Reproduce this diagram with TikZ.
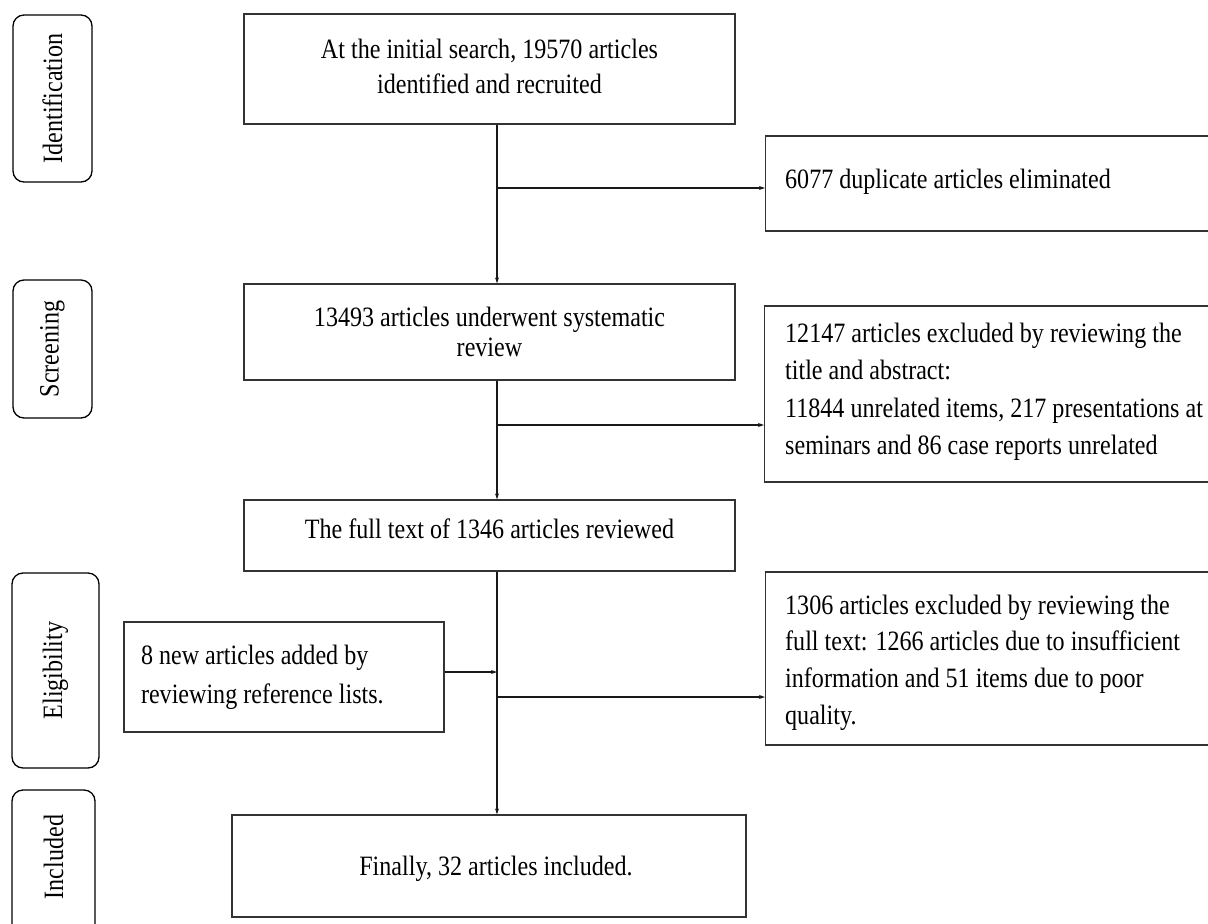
\documentclass[tikz,border=0pt]{standalone}
\usepackage{fontspec}
\setmainfont{Liberation Serif}[FakeStretch=0.86]
\usetikzlibrary{arrows.meta,calc}
\begin{document}
\begin{tikzpicture}[x=1pt,y=-1pt,
  every node/.style={font=\fontsize{28}{38}\selectfont},
  box/.style={draw=black!80,line width=1.3pt,inner sep=0pt,align=center},
  rbox/.style={draw=black!80,line width=1.3pt,inner sep=0pt,minimum width=470pt,anchor=west},
  rtext/.style={inner sep=0pt,anchor=west,align=flush left},
  tab/.style={draw=black,line width=1.3pt,rounded corners=11pt,inner sep=0pt},
  flow/.style={line width=2.4pt,draw=black!90,-{Stealth[length=6pt,width=4pt]}}]
\useasboundingbox (0,0) rectangle (1208,924);

% stage tabs
\node[tab,minimum width=79pt,minimum height=167pt] (tid) at (52.5,98.5) {};
\node[rotate=90] (tidt) at (tid.center) {Identification};
\node[tab,minimum width=79pt,minimum height=138pt] (tsc) at (52.5,349) {};
\node[rotate=90] (tsct) at (tsc.center) {Screening};
\node[tab,minimum width=87pt,minimum height=195pt] (tel) at (55.5,670.5) {};
\node[rotate=90] (telt) at (tel.center) {Eligibility};
\node[tab,minimum width=83pt,minimum height=150pt] (tin) at (53.5,865) {};
\node[rotate=90] (tint) at (53.5,857) {Included};

% main boxes
\node[box,minimum width=491pt,minimum height=110pt] (n1) at (489.5,69) {};
\node[align=center,font=\fontsize{28}{35}\selectfont] (n1t) at (489.5,66) {At the initial search, 19570 articles\\identified and recruited};
\node[box,minimum width=491pt,minimum height=96pt,font=\fontsize{28}{30}\selectfont] (n2) at (489.5,332) {13493 articles underwent systematic\\review};
\node[box,minimum width=491pt,minimum height=71pt] (n3) at (489.5,535.5) {};
\node (n3t) at (489.5,529) {The full text of 1346 articles reviewed};
\node[box,minimum width=514pt,minimum height=102pt] (n5) at (489,866) {};
\node (n5t) at (496,869) {Finally, 32 articles included.};
\node[box,minimum width=320pt,minimum height=110pt,align=flush left,text width=286pt,font=\fontsize{28}{39}\selectfont] (add) at (284,677) {8 new articles added by\\reviewing reference lists.};

% exclusion boxes
\node[rbox,minimum height=95pt] (dup) at (765,183.5) {};
\node[rtext] (dupt) at ([xshift=20pt,yshift=2pt]dup.west) {6077 duplicate articles eliminated};
\node[rbox,minimum height=176pt] (ex1) at (764,394) {};
\node[rtext,font=\fontsize{28}{37.5}\selectfont] (ex1t) at (785,392) {12147 articles excluded by reviewing the\\title and abstract:\\11844 unrelated items, 217 presentations at\\seminars and 86 case reports unrelated};
\node[rbox,minimum height=173pt] (ex2) at (765,658.5) {};
\node[rtext,font=\fontsize{28}{36.7}\selectfont] (ex2t) at ([xshift=20pt,yshift=-4pt]ex2.west) {1306 articles excluded by reviewing the\\full text: 1266 articles due to insufficient\\information and 51 items due to poor\\quality.};

% spine coordinates
\coordinate (b1) at (497,188);
\coordinate (b2) at (497,425);
\coordinate (b3) at (497,672);
\coordinate (b4) at (497,697);

\draw[flow] (n1.south -| b1) -- (n2.north -| b1);
\draw[flow] (n2.south -| b1) -- (n3.north -| b1);
\draw[flow] (n3.south -| b1) -- (n5.north -| b1);
\draw[flow] (b1) -- (dup.west |- b1);
\draw[flow] (b2) -- (ex1.west |- b2);
\draw[flow] (b4) -- (ex2.west |- b4);
\draw[flow] (add.east |- b3) -- (b3);
\end{tikzpicture}
\end{document}
